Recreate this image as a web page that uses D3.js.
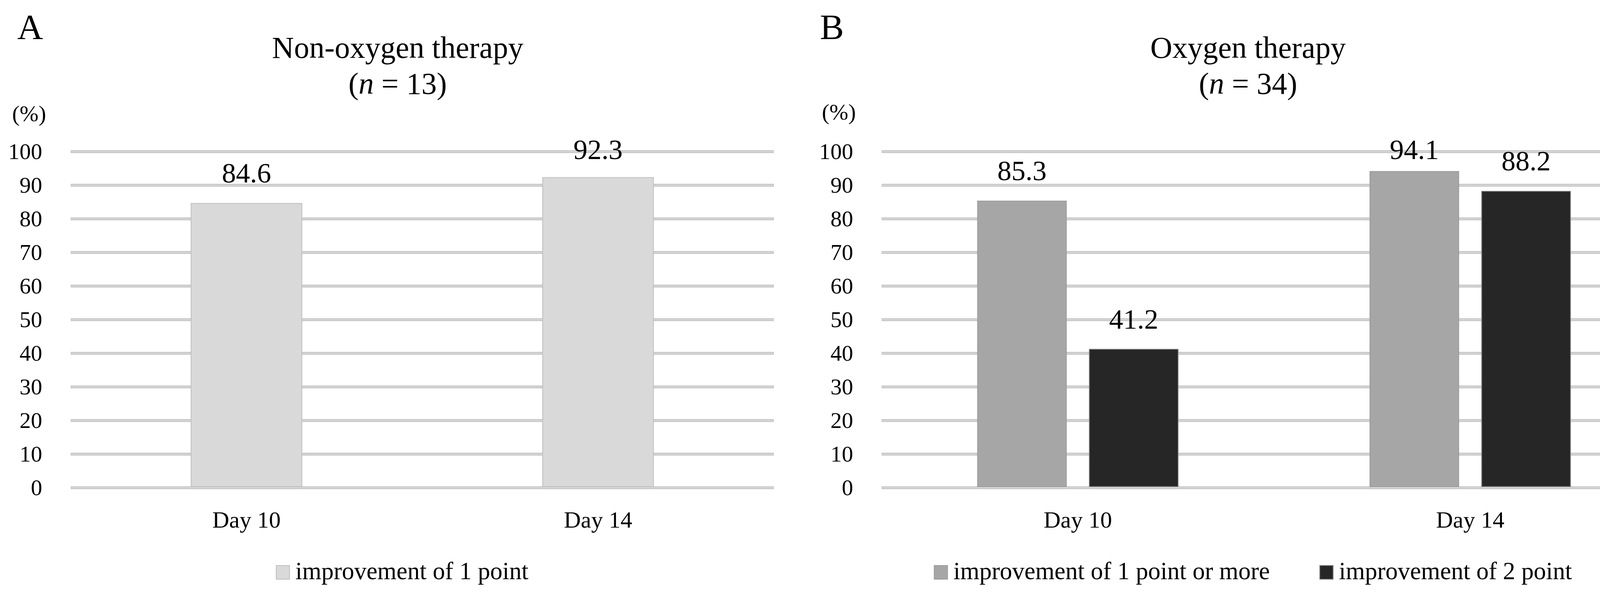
<!DOCTYPE html>
<html>
<head>
<meta charset="utf-8">
<script src="https://cdn.jsdelivr.net/npm/d3@7"></script>
<style>
  body { margin: 0; background: #fff; }
  svg { display: block; }
  text { font-family: "Liberation Serif", "DejaVu Serif", serif; fill: #000; }
</style>
</head>
<body>
<div class="wrapper"></div>
<script>
// data
var days = ["Day 10", "Day 14"];
var yTicks = [0, 10, 20, 30, 40, 50, 60, 70, 80, 90, 100];

var nonOxygenSeries = ["improvement of 1 point"];
var nonOxygenOnePoint = [84.6, 92.3];

var oxygenSeries = ["improvement of 1 point or more", "improvement of 2 point"];
var oxygenOnePointOrMore = [85.3, 94.1];
var oxygenTwoPoint = [41.2, 88.2];

var width = 4296,
    height = 1548;

var svg = d3.select(".wrapper").append("svg")
    .attr("width", width)
    .attr("height", height);

var y = d3.scaleLinear()
    .domain([0, 100])
    .range([1248, 388]);

function drawPanel(p) {
    var g = svg.append("g");

    // panel letter, title, unit
    g.append("text")
        .attr("x", p.letterX).attr("y", 100)
        .style("font-size", "92px")
        .text(p.letter);

    var title = g.append("text")
        .attr("x", p.titleX).attr("y", 148)
        .attr("text-anchor", "middle")
        .style("font-size", "78px");
    title.append("tspan").text(p.title);
    var sub = g.append("text")
        .attr("x", p.titleX).attr("y", 240)
        .attr("text-anchor", "middle")
        .style("font-size", "78px");
    sub.append("tspan").text("(");
    sub.append("tspan").style("font-style", "italic").text("n");
    sub.append("tspan").text(" = " + p.n + ")");

    g.append("text")
        .attr("x", p.unitX).attr("y", p.unitY)
        .style("font-size", "58px")
        .text("(%)");

    var x0 = d3.scaleBand()
        .domain(days)
        .range([p.left, p.right])
        .padding(0);

    var step = x0.step(),
        gw = step * p.groupFrac;

    var x1 = d3.scaleBand()
        .domain(p.series)
        .range([(step - gw) / 2, (step + gw) / 2])
        .paddingInner(p.innerPad);

    var color = d3.scaleOrdinal()
        .domain(p.series)
        .range(p.colors);
    var edge = d3.scaleOrdinal()
        .domain(p.series)
        .range(p.edges);

    // gridlines: darker band with a lighter core
    var grid = g.append("g");
    grid.selectAll("line.outer")
        .data(yTicks)
        .enter().append("line")
        .attr("class", "outer")
        .attr("x1", p.left).attr("x2", p.right)
        .attr("y1", function(d) { return y(d); })
        .attr("y2", function(d) { return y(d); })
        .attr("stroke", "#bdbdbd")
        .attr("stroke-width", 7);
    grid.selectAll("line.inner")
        .data(yTicks)
        .enter().append("line")
        .attr("class", "inner")
        .attr("x1", p.left + 1).attr("x2", p.right - 1)
        .attr("y1", function(d) { return y(d); })
        .attr("y2", function(d) { return y(d); })
        .attr("stroke", "#dadada")
        .attr("stroke-width", 3);

    // y axis labels
    g.append("g")
        .attr("transform", "translate(" + p.left + ",0)")
        .call(d3.axisLeft(y).tickValues(yTicks).tickSize(0).tickPadding(73))
        .call(function(a) { a.select(".domain").remove(); })
        .selectAll("text")
        .style("font-family", "'Liberation Serif', serif")
        .style("font-size", "58px")
        .attr("fill", "#000");

    // x axis labels
    g.append("g")
        .attr("transform", "translate(0," + y(0) + ")")
        .call(d3.axisBottom(x0).tickSize(0).tickPadding(59))
        .call(function(a) { a.select(".domain").remove(); })
        .selectAll("text")
        .style("font-family", "'Liberation Serif', serif")
        .style("font-size", "60px")
        .attr("fill", "#000");

    var rows = days.map(function(day, i) {
        return {
            day: day,
            bars: p.series.map(function(s, j) { return { key: s, value: p.values[j][i] }; })
        };
    });

    var groups = g.selectAll("g.day")
        .data(rows)
        .enter().append("g")
        .attr("class", "day")
        .attr("transform", function(d) { return "translate(" + x0(d.day) + ",0)"; });

    groups.selectAll("rect")
        .data(function(d) { return d.bars; })
        .enter().append("rect")
        .attr("x", function(d) { return x1(d.key); })
        .attr("y", function(d) { return y(d.value); })
        .attr("width", x1.bandwidth())
        .attr("height", function(d) { return y(0) - 3 - y(d.value); })
        .attr("fill", function(d) { return color(d.key); })
        .attr("stroke", function(d) { return edge(d.key); })
        .attr("stroke-width", 2);

    // value labels, kept inside the plot top
    groups.selectAll("text.val")
        .data(function(d) { return d.bars; })
        .enter().append("text")
        .attr("class", "val")
        .attr("x", function(d) { return x1(d.key) + x1.bandwidth() / 2; })
        .attr("y", function(d) { return Math.max(y(d.value) - 53, y(100) + 19); })
        .attr("text-anchor", "middle")
        .style("font-size", "72px")
        .text(function(d) { return d.value.toFixed(1); });

    // legend, centred under the chart
    var legend = g.append("g");
    var items = legend.selectAll("g")
        .data(p.series)
        .enter().append("g");
    items.append("rect")
        .attr("x", 0).attr("y", -35)
        .attr("width", 34).attr("height", 35)
        .attr("fill", function(d) { return color(d); })
        .attr("stroke", function(d) { return edge(d); })
        .attr("stroke-width", 2);
    items.append("text")
        .attr("x", 49).attr("y", 0)
        .style("font-size", "63px")
        .text(function(d) { return d; });

    var pos = 0;
    items.each(function() {
        var w = 49 + d3.select(this).select("text").node().getComputedTextLength();
        d3.select(this).attr("transform", "translate(" + pos + ",0)");
        pos += w + 128;
    });
    pos -= 128;
    legend.attr("transform", "translate(" + (p.legendX - pos / 2) + ",1482)");
}

drawPanel({
    letter: "A", letterX: 44,
    title: "Non-oxygen therapy", n: 13, titleX: 1018,
    unitX: 31, unitY: 310,
    left: 181, right: 1981,
    groupFrac: 0.315, innerPad: 0,
    series: nonOxygenSeries,
    values: [nonOxygenOnePoint],
    colors: ["#d9d9d9"],
    edges: ["#bfbfbf"],
    legendX: 1030
});

drawPanel({
    letter: "B", letterX: 2099,
    title: "Oxygen therapy", n: 34, titleX: 3195,
    unitX: 2104, unitY: 306,
    left: 2257, right: 4266,
    groupFrac: 0.511, innerPad: 0.206,
    series: oxygenSeries,
    values: [oxygenOnePointOrMore, oxygenTwoPoint],
    colors: ["#a6a6a6", "#262626"],
    edges: ["#9a9a9a", "#7a7a7a"],
    legendX: 3208
});
</script>
</body>
</html>
